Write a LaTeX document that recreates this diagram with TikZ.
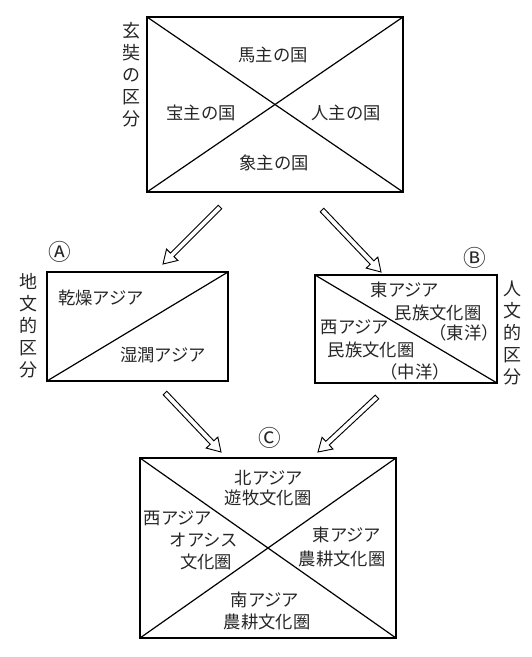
\documentclass[tikz,border=0pt]{standalone}
\usepackage{fontspec}
\setmainfont{Noto Sans CJK JP}
\usetikzlibrary{calc}
\newcommand\hollowarr[2]{%
  \draw[arrowline]
    ($(#1)!1.9pt!90:(#2)$) --
    ($($(#2)!9.75pt!(#1)$)!1.9pt!90:(#2)$) --
    ($($(#2)!9.75pt!(#1)$)!6pt!90:(#2)$) --
    (#2) --
    ($($(#2)!9.75pt!(#1)$)!6pt!-90:(#2)$) --
    ($($(#2)!9.75pt!(#1)$)!1.9pt!-90:(#2)$) --
    ($(#1)!1.9pt!-90:(#2)$) -- cycle;}
\begin{document}
\begin{tikzpicture}[x=0.75pt,y=-0.75pt,
  box/.style={draw, line width=1.1pt, minimum width=#1, inner sep=0pt, outer sep=0pt},
  diag/.style={line width=0.9pt},
  lbl/.style={inner sep=0pt, font=\fontsize{13pt}{16pt}\selectfont, text=black!85},
  vlbl/.style={inner sep=0pt, align=center, font=\fontsize{13.5pt}{16.5pt}\selectfont, text=black!85},
  circlbl/.style={inner sep=0pt, font=\fontsize{17pt}{20pt}\selectfont, text=black!85},
  arrowline/.style={line width=0.7pt, fill=white, line join=miter}]
\useasboundingbox (0,0) rectangle (532,657);
% top box
\node[box=192pt, minimum height=131.25pt] (top) at (275,104.5) {};
\draw[diag] (top.north west) -- (top.south east);
\draw[diag] (top.south west) -- (top.north east);
\node[lbl] (t1) at (273,55) {馬主の国};
\node[lbl] (t2) at (201,113) {宝主の国};
\node[lbl] (t3) at (346,113) {人主の国};
\node[lbl] (t4) at (274,163) {象主の国};
\node[vlbl] (tv) at (131,75) {玄\\奘\\の\\区\\分};
% box A
\node[box=135.75pt, minimum height=81.75pt] (boxa) at (137.5,326.5) {};
\draw[diag] (boxa.south west) -- (boxa.north east);
\node[circlbl] (ma) at (60,252) {Ⓐ};
\node[lbl] (a1) at (101,298) {乾燥アジア};
\node[lbl] (a2) at (163,355) {湿潤アジア};
\node[vlbl] (av) at (28,325.5) {地\\文\\的\\区\\分};
% box B
\node[box=136.5pt, minimum height=81pt] (boxb) at (406,329) {};
\draw[diag] (boxb.north west) -- (boxb.south east);
\node[circlbl] (mb) at (475,258) {Ⓑ};
\node[lbl] (b1) at (405,290) {東アジア};
\node[lbl] (b2) at (438,313) {民族文化圏};
\node[lbl] (b3) at (464,333) {（東洋）};
\node[lbl] (b4) at (355,327) {西アジア};
\node[lbl] (b5) at (371,350) {民族文化圏};
\node[lbl] (b6) at (415,372) {（中洋）};
\node[vlbl] (bv) at (512,333) {人\\文\\的\\区\\分};
% box C
\node[box=192pt, minimum height=135pt] (boxc) at (268,548) {};
\draw[diag] (boxc.north west) -- (boxc.south east);
\draw[diag] (boxc.south west) -- (boxc.north east);
\node[circlbl] (mc) at (270,438) {Ⓒ};
\node[lbl] (c1) at (269,478) {北アジア};
\node[lbl] (c2) at (268,498) {遊牧文化圏};
\node[lbl] (c3) at (178,518) {西アジア};
\node[lbl] (c4) at (204,540) {オアシス};
\node[lbl] (c5) at (206,562) {文化圏};
\node[lbl] (c6) at (347,535) {東アジア};
\node[lbl] (c7) at (342,559) {農耕文化圏};
\node[lbl] (c8) at (265,600) {南アジア};
\node[lbl] (c9) at (267,622) {農耕文化圏};
% arrows
\coordinate (p1) at (220,207); \coordinate (q1) at (163,264);
\coordinate (p2) at (322,210); \coordinate (q2) at (381,272);
\coordinate (p3) at (165,393); \coordinate (q3) at (221,452);
\coordinate (p4) at (377,397); \coordinate (q4) at (318,452);
\hollowarr{p1}{q1}
\hollowarr{p2}{q2}
\hollowarr{p3}{q3}
\hollowarr{p4}{q4}
\end{tikzpicture}
\end{document}
